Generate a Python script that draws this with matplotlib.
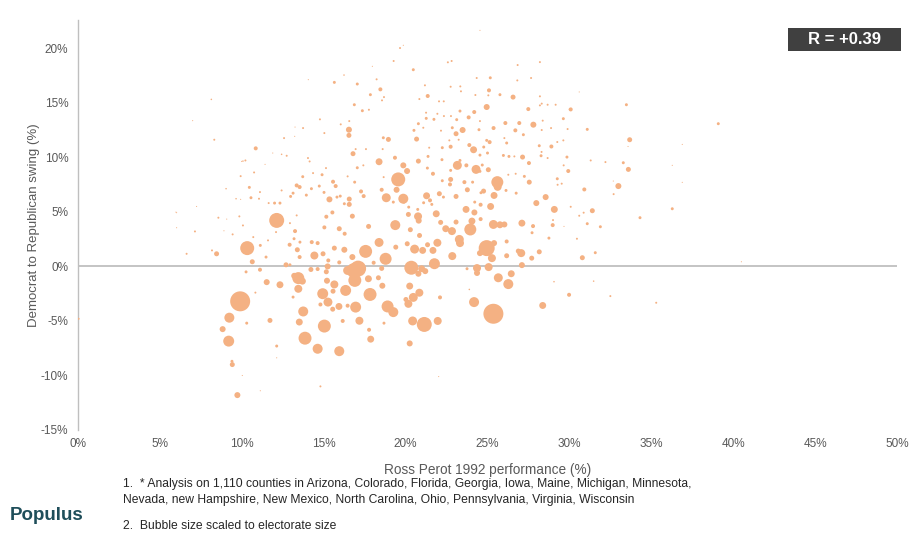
import matplotlib
matplotlib.use("Agg")
import matplotlib.pyplot as plt
from matplotlib.patches import Rectangle
from matplotlib.ticker import FuncFormatter

# County level values (percentages)
perot_pct = [
    9.9, 10.33, 12.13, 9.24, 9.2, 8.83, 9.42, 9.4, 9.73, 8.46,
    10.64, 11.11, 10.26, 11.52, 12.33, 10.83, 10.3, 11.72, 12.13, 13.75,
    13.86, 13.51, 13.45, 13.45, 13.2, 13.7, 12.7, 14.43, 14.22, 14.63,
    14.63, 15.95, 15.04, 15.2, 15.65, 15.57, 14.94, 15.26, 14.8, 15.55,
    15.93, 16.34, 16.95, 17.18, 17.87, 17.77, 16.16, 17.83, 16.85, 17.1,
    16.9, 16.46, 17.56, 18.38, 18.78, 18.58, 18.34, 17.73, 18.9, 19.25,
    16.75, 16.26, 15.24, 15.16, 14.96, 15.65, 15.95, 18.05, 17.74, 16.75,
    16.56, 15.16, 15.53, 15.95, 15.04, 13.39, 13.53, 13.25, 12.92, 14.27,
    14.63, 16.28, 15.28, 12.94, 18.54, 18.68, 14.8, 11.13, 10.03, 13.13,
    16.46, 25.36, 21.14, 20.43, 21.96, 20.25, 24.18, 28.37, 25.66, 26.27,
    26.45, 25.07, 24.36, 24.36, 24.95, 25.27, 24.54, 25.4, 26.17, 27.06,
    27.1, 27.7, 28.16, 26.88, 22.85, 21.76, 20.35, 20.98, 21.2, 20.78,
    20.25, 20.84, 20.47, 20.17, 20.02, 22.1, 19.37, 19.4, 20.1, 20.55,
    21.04, 21.67, 21.94, 21.34, 20.85, 20.29, 20.76, 20.8, 20.17, 21.87,
    22.14, 22.45, 22.83, 23.28, 23.32, 23.95, 23.08, 23.69, 24.05, 24.2,
    24.58, 25.36, 25.76, 26.03, 25.19, 24.58, 24.22, 27.1, 27.98, 29.08,
    28.98, 27.78, 27.72, 28.75, 26.17, 29.98, 29.06, 22.02, 23.89, 23.75,
    19.9, 19.25, 21.1, 21.6, 20.19, 20.74, 31.4, 31.89, 31.09, 30.6,
    30.46, 30.79, 31.58, 32.5, 31.48, 16.54, 16.54, 18.38, 18.82, 16.79,
    10.85, 15.35, 16.56, 13.35, 13.53, 10.46, 13.72, 14.9, 15.57, 15.73,
    14.73, 14.25, 15.02, 13.94, 13.13, 12.98, 10.56, 9.93, 10.75, 10.22,
    8.32, 8.14, 12.58, 13.74, 14.77, 16.04, 15.65, 17.05, 17.85, 18.46,
    18.23, 16.87, 17.36, 17.76, 16.56, 18.56, 18.68, 18.95, 18.64, 18.6,
    17.58, 16.95, 17.05, 17.42, 16.89, 18.54, 17.28, 17.44, 12.74, 14.14,
    14.04, 15.14, 14.35, 16.46, 18.66, 11.11, 12.43, 12.0, 12.33, 11.64,
    11.05, 9.65, 9.04, 10.07, 12.43, 16.24, 17.97, 14.06, 16.01, 16.26,
    15.81, 19.55, 19.86, 19.86, 20.09, 19.35, 20.78, 20.67, 23.16, 24.3,
    23.48, 23.08, 24.15, 24.95, 25.6, 25.62, 25.4, 25.05, 23.71, 22.75,
    22.06, 21.28, 23.08, 23.77, 23.59, 22.71, 22.24, 21.67, 21.33, 21.37,
    22.22, 22.75, 23.89, 24.54, 25.13, 25.37, 24.48, 23.85, 24.19, 23.32,
    22.85, 21.73, 21.26, 20.78, 20.51, 21.08, 22.16, 21.35, 20.47, 19.66,
    19.86, 19.27, 22.81, 22.58, 23.38, 25.17, 25.09, 25.76, 26.84, 28.2,
    27.66, 26.82, 26.56, 27.49, 27.8, 26.94, 26.7, 27.19, 26.09, 24.54,
    28.9, 28.16, 29.63, 29.16, 30.02, 27.14, 27.53, 28.27, 29.65, 29.93,
    27.25, 27.55, 29.26, 29.53, 28.55, 26.75, 26.13, 26.31, 25.97, 26.64,
    26.17, 26.03, 24.95, 23.24, 22.67, 22.24, 21.44, 23.32, 22.75, 25.0,
    24.77, 23.12, 22.77, 22.34, 21.94, 21.25, 20.84, 22.04, 22.33, 24.34,
    22.75, 23.34, 25.05, 28.31, 29.63, 29.89, 26.27, 26.72, 24.6, 24.54,
    22.31, 24.54, 30.08, 31.09, 32.2, 32.99, 30.91, 29.85, 31.3, 29.28,
    28.2, 24.26, 24.76, 24.68, 24.09, 21.49, 19.45, 15.04, 21.18, 8.18,
    6.63, 6.02, 6.02, 7.14, 7.24, 0.04, 8.57, 8.91, 9.08, 9.44,
    9.85, 10.07, 10.7, 11.13, 11.48, 11.6, 12.13, 12.09, 13.19, 13.55,
    12.94, 13.35, 7.0, 5.98, 9.99, 9.93, 11.42, 11.89, 13.25, 13.23,
    33.48, 39.09, 33.68, 33.58, 33.29, 33.6, 36.89, 36.28, 36.89, 32.68,
    32.7, 36.28, 34.31, 40.5, 35.3, 30.6, 28.2, 28.67, 29.26, 28.37,
    28.88, 28.31, 28.3, 28.67, 29.0, 30.87, 30.08, 29.67,
]

swing_pct = [
    -3.2, 1.68, 4.22, -4.7, -6.85, -5.75, -9.0, -8.7, -11.8, 1.16,
    0.43, -0.3, -0.5, -1.44, -1.68, -2.4, -5.2, -4.95, -7.3, -4.13,
    -6.58, -5.1, -2.05, -1.07, -0.86, -1.35, 0.15, 1.0, -0.28, -0.24,
    -7.55, -7.77, -5.47, -1.31, -1.65, -2.27, -2.5, -3.27, -3.49, -3.92,
    -3.67, -2.2, -3.73, -4.98, -6.67, -5.81, -5.0, -2.57, -0.37, -0.2,
    -1.28, -0.37, 1.38, 2.2, 0.7, -1.77, -1.04, -1.13, -3.67, -4.19,
    0.86, 1.53, 0.0, -0.49, 1.16, 1.68, 0.37, 0.34, 3.67, 4.61,
    5.69, 4.56, 4.95, 3.46, 3.58, 1.53, 0.86, 3.24, 1.99, 2.23,
    2.14, 3.0, 0.55, 0.15, -0.18, -5.2, -11.0, -11.4, -10.0, -2.81,
    -3.6, -4.34, -5.32, -5.0, -5.0, -7.06, -3.27, -3.58, -1.04, -1.62,
    -0.67, -0.06, -0.15, -0.6, 1.68, 0.76, 1.22, 2.14, 0.98, 1.22,
    0.12, 0.76, 1.34, 1.41, 0.95, 0.25, -0.12, -0.21, -0.43, -0.67,
    -1.8, -2.41, -2.84, -3.43, -3.03, -2.84, 3.79, 1.77, 2.08, 1.59,
    1.47, 1.47, 2.17, 1.99, 2.84, 3.37, 4.59, 4.2, 4.77, 4.83,
    4.04, 3.46, 3.24, 2.48, 2.14, 3.39, 4.07, 5.23, 4.16, 4.95,
    4.34, 3.85, 3.82, 3.85, 5.5, 5.66, 5.9, 3.97, 5.81, 5.23,
    3.79, 3.7, 3.09, 2.6, 2.29, -2.6, -1.4, -10.1, -2.11, -0.21,
    5.9, 5.9, 5.84, 5.69, 5.44, 5.23, 5.11, 3.64, 3.92, 4.65,
    2.54, 0.8, 1.26, -2.72, -1.35, 12.54, 12.02, 9.6, 6.3, 10.34,
    10.83, 6.15, 6.18, 7.43, 7.28, 7.25, 8.23, 8.41, 7.77, 7.37,
    7.37, 7.13, 6.79, 6.54, 6.72, 6.42, 6.3, 8.28, 8.62, 9.72,
    11.62, 15.32, 11.77, 12.69, 13.49, 13.03, 16.88, 16.73, 15.75, 16.24,
    17.16, 14.83, 14.28, 14.37, 13.33, 15.23, 15.53, 11.65, 11.8, 10.76,
    10.76, 10.76, 9.05, 9.27, 7.73, 7.03, 6.88, 6.45, 10.15, 9.63,
    9.94, 9.02, 8.56, 8.26, 8.19, 6.82, 6.97, 5.81, 5.81, 5.81,
    6.21, 6.21, 7.13, 9.66, 10.28, 17.55, 18.35, 17.13, 6.45, 5.75,
    6.36, 7.98, 6.21, 9.27, 8.75, 9.97, 9.66, 11.68, 9.27, 8.9,
    12.51, 12.17, 10.7, 14.62, 7.73, 7.3, 6.51, 8.87, 9.27, 7.98,
    6.67, 6.48, 6.42, 7.03, 7.73, 7.52, 7.86, 8.5, 9.02, 10.09,
    9.79, 10.98, 11.13, 10.21, 11.4, 12.69, 12.54, 13.67, 14.16, 14.25,
    12.72, 13.49, 13.58, 13.09, 12.48, 12.72, 12.45, 15.63, 18.04, 20.03,
    20.28, 18.84, 18.84, 18.72, 16.06, 17.3, 16.15, 15.75, 18.47, 18.74,
    17.28, 17.06, 15.53, 14.43, 13.0, 13.15, 12.48, 12.08, 13.15, 13.33,
    11.0, 11.07, 13.55, 14.83, 14.4, 10.03, 9.48, 10.15, 9.27, 8.75,
    8.26, 7.73, 8.04, 7.59, 6.36, 6.72, 6.97, 10.09, 10.18, 10.09,
    11.32, 11.77, 11.56, 11.62, 11.56, 10.89, 10.89, 9.72, 8.81, 10.4,
    10.95, 13.46, 13.79, 13.79, 14.0, 14.1, 15.35, 15.14, 15.14, 17.28,
    16.48, 16.51, 15.69, 14.93, 11.56, 12.6, 8.41, 8.5, 6.76, 8.72,
    6.36, 21.65, 14.4, 12.57, 9.57, 7.37, 7.06, 10.03, 9.72, 7.49,
    15.6, 15.72, 6.91, 9.3, 7.73, 6.06, 7.03, 12.23, 16.61, 1.47,
    1.16, 4.93, 3.55, 3.21, 5.5, -4.8, 4.47, 3.27, 4.34, 2.94,
    4.59, 3.76, 2.69, 1.93, 0.86, 2.39, -8.38, 3.15, 2.54, 2.23,
    3.97, 4.68, 13.37, 4.98, 9.63, 6.15, 9.36, 10.4, 12.78, 11.93,
    14.83, 13.09, 11.62, 11.0, 9.51, 8.9, 11.19, 9.27, 7.71, 7.83,
    6.63, 5.29, 4.47, 0.43, -3.33, 16.0, 14.77, 14.83, 11.41, 13.37,
    12.69, 12.51, 10.5, 9.94, 4.25, 4.93, 5.47, 3.67,
]

# Electorate size, thousands of voters (drives bubble area)
electorate_k = [
    1000, 490, 560, 250, 300, 90, 62, 22, 90, 62,
    62, 40, 22, 90, 120, 10, 22, 62, 22, 250,
    420, 120, 160, 360, 90, 120, 62, 160, 62, 40,
    250, 250, 420, 90, 160, 62, 300, 200, 40, 62,
    120, 300, 300, 160, 120, 40, 40, 420, 560, 640,
    420, 200, 420, 200, 360, 90, 62, 120, 360, 250,
    90, 90, 90, 62, 62, 62, 40, 40, 62, 62,
    62, 40, 40, 62, 40, 62, 40, 40, 40, 40,
    40, 40, 40, 22, 62, 22, 10, 3, 3, 22,
    40, 1000, 560, 200, 160, 90, 250, 120, 200, 250,
    120, 160, 160, 90, 640, 160, 90, 90, 62, 160,
    90, 62, 62, 62, 160, 300, 490, 120, 90, 90,
    120, 160, 200, 160, 62, 40, 250, 62, 62, 200,
    120, 120, 160, 62, 62, 62, 160, 90, 62, 120,
    62, 120, 160, 200, 160, 360, 62, 120, 120, 90,
    40, 200, 120, 90, 120, 40, 22, 120, 90, 120,
    40, 40, 22, 22, 40, 40, 6, 3, 6, 22,
    22, 22, 22, 22, 22, 22, 62, 22, 22, 10,
    10, 62, 22, 10, 6, 90, 62, 120, 200, 62,
    40, 90, 62, 40, 40, 22, 22, 22, 40, 40,
    22, 22, 22, 22, 22, 22, 22, 10, 10, 10,
    10, 6, 10, 10, 10, 10, 22, 22, 22, 40,
    10, 22, 22, 10, 10, 10, 10, 62, 22, 10,
    10, 10, 22, 10, 22, 40, 40, 40, 10, 10,
    10, 10, 10, 10, 10, 10, 10, 22, 22, 10,
    10, 6, 6, 6, 6, 6, 3, 3, 22, 22,
    22, 490, 250, 90, 90, 40, 62, 62, 200, 200,
    90, 62, 120, 90, 360, 160, 120, 62, 40, 62,
    62, 120, 62, 62, 40, 40, 22, 40, 22, 22,
    22, 40, 40, 22, 40, 40, 22, 40, 40, 22,
    22, 22, 22, 22, 22, 10, 10, 40, 22, 10,
    3, 10, 10, 10, 10, 22, 40, 22, 10, 10,
    10, 10, 62, 40, 90, 40, 40, 22, 40, 10,
    40, 22, 22, 10, 10, 62, 40, 22, 10, 40,
    22, 62, 22, 10, 90, 22, 22, 22, 22, 10,
    22, 10, 22, 10, 10, 22, 10, 22, 22, 22,
    22, 22, 10, 10, 10, 10, 10, 10, 10, 10,
    10, 10, 10, 10, 10, 10, 10, 10, 22, 22,
    22, 3, 40, 22, 10, 90, 40, 22, 10, 10,
    10, 10, 62, 22, 22, 40, 90, 10, 10, 10,
    10, 3, 3, 10, 3, 10, 10, 3, 3, 10,
    10, 10, 10, 22, 22, 10, 3, 10, 22, 22,
    10, 10, 3, 3, 3, 3, 3, 3, 3, 3,
    22, 22, 62, 3, 22, 62, 3, 3, 3, 3,
    10, 22, 22, 3, 10, 3, 10, 10, 10, 10,
    10, 10, 10, 10, 10, 10, 10, 3,
]

x_ticks = [0, 5, 10, 15, 20, 25, 30, 35, 40, 45, 50]
y_ticks = [-15, -10, -5, 0, 5, 10, 15, 20]
r_value = "+0.39"

footnote_1 = ("1.  * Analysis on 1,110 counties in Arizona, Colorado, Florida, Georgia, Iowa, Maine, Michigan, Minnesota,\n"
              "Nevada, new Hampshire, New Mexico, North Carolina, Ohio, Pennsylvania, Virginia, Wisconsin")
footnote_2 = "2.  Bubble size scaled to electorate size"

BUBBLE = "#F4B183"
GREY_TEXT = "#595959"
GRID = "#BFBFBF"
FONT = "Liberation Sans"

assert len(perot_pct) == len(swing_pct) == len(electorate_k)

fig = plt.figure(figsize=(9.2, 5.4), dpi=100)
ax = fig.add_axes([78 / 920, 1 - 430 / 540, 819 / 920, 410 / 540])

sizes = [e * 0.207 for e in electorate_k]
ax.scatter(perot_pct, swing_pct, s=sizes, c=BUBBLE, linewidths=0, zorder=3)

ax.set_xlim(0, 50)
ax.set_ylim(-15, 22.6)
ax.set_xticks(x_ticks)
ax.set_yticks(y_ticks)
pct = FuncFormatter(lambda v, _: f"{v:.0f}%")
ax.xaxis.set_major_formatter(pct)
ax.yaxis.set_major_formatter(pct)

for side in ["top", "right", "bottom"]:
    ax.spines[side].set_visible(False)
ax.spines["left"].set_color(GRID)
ax.spines["left"].set_linewidth(1)
ax.axhline(0, color=GRID, lw=1.3, zorder=1)

ax.tick_params(axis="both", length=0, colors=GREY_TEXT)
ax.tick_params(axis="y", labelsize=8.5, pad=7)
ax.tick_params(axis="x", labelsize=8.5, pad=6)
for lab in ax.get_yticklabels() + ax.get_xticklabels():
    lab.set_family(FONT)

ax.set_ylabel("Democrat to Republican swing (%)", fontsize=9.5, color=GREY_TEXT,
              family=FONT)
ax.yaxis.set_label_coords(-0.047, 0.5)
ax.set_xlabel("Ross Perot 1992 performance (%)", fontsize=9.8, color=GREY_TEXT,
              family=FONT, labelpad=9)

# R value badge
fig.patches.append(Rectangle((788 / 920, 1 - 51 / 540), 113 / 920, 23 / 540,
                             transform=fig.transFigure, facecolor="#404040",
                             edgecolor="none", zorder=5))
fig.text(845 / 920, 1 - 39.5 / 540, f"R = {r_value}", color="white", fontsize=12,
         fontweight="bold", family=FONT, ha="center", va="center", zorder=6)

# footnotes and logo
fig.text(123 / 920, 1 - 492 / 540, footnote_1, fontsize=8.7, color="#262626",
         family=FONT, ha="left", va="center", linespacing=1.35)
fig.text(123 / 920, 1 - 526 / 540, footnote_2, fontsize=8.7, color="#262626",
         family=FONT, ha="left", va="center")
fig.text(10 / 920, 1 - 516 / 540, "Populus", fontsize=13.5, color="#1F4E5A",
         fontweight="bold", family=FONT, ha="left", va="center")

fig.savefig("out.png", dpi=100)
